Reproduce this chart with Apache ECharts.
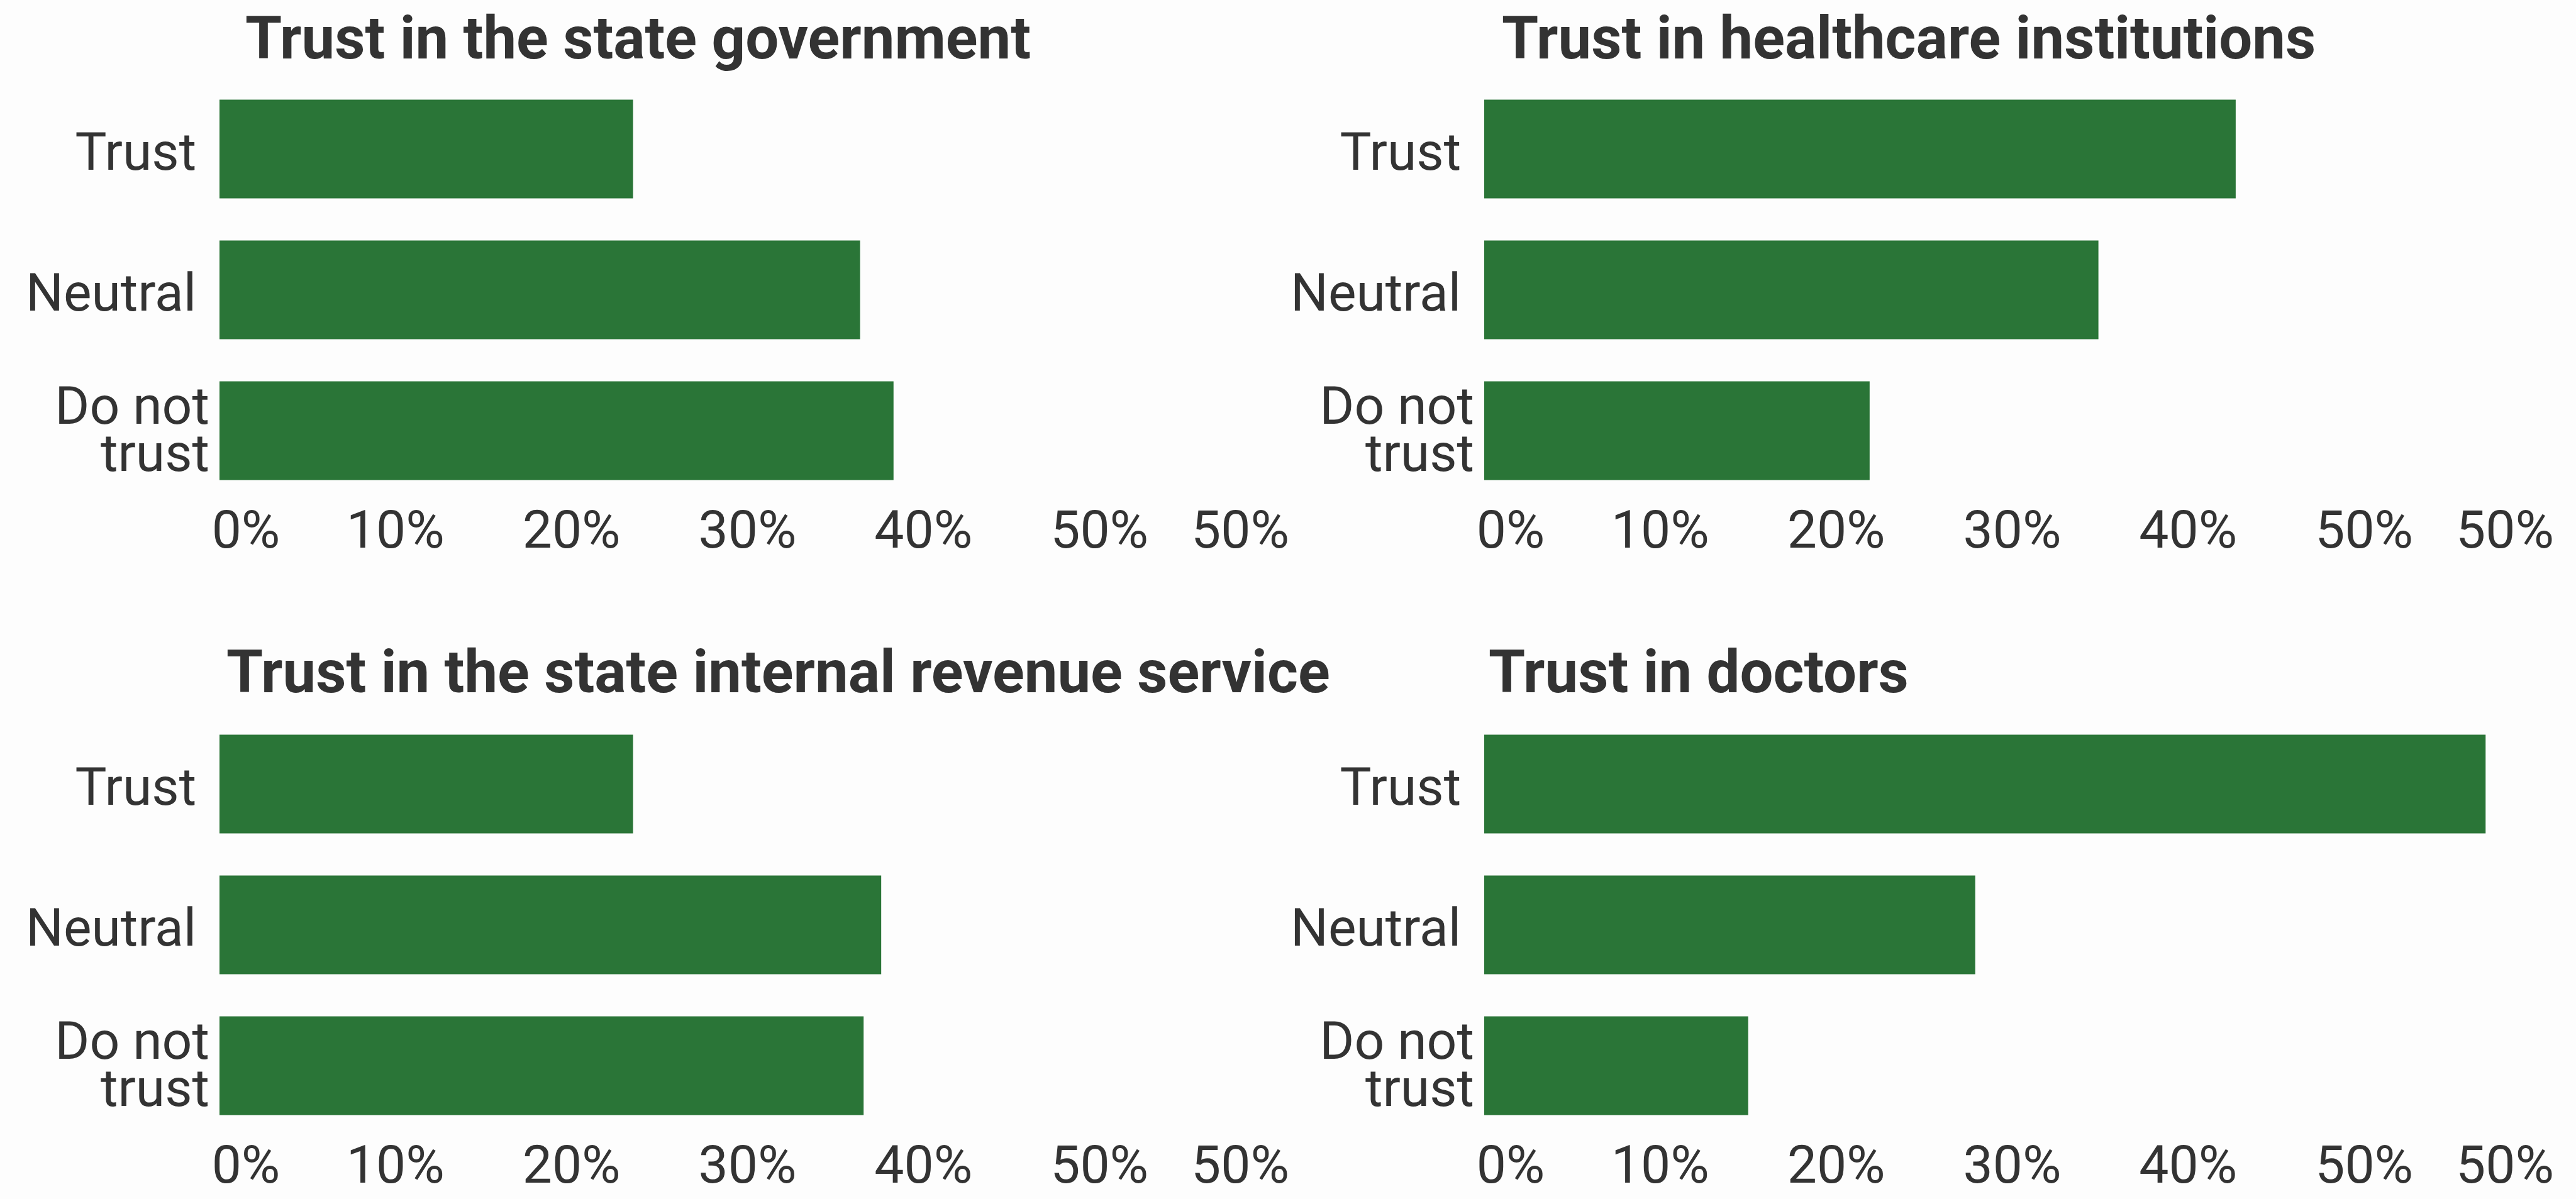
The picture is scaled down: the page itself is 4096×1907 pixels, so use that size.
<!DOCTYPE html>
<html>
<head>
<meta charset="utf-8">
<script src="https://cdn.jsdelivr.net/npm/echarts@6/dist/echarts.min.js"></script>
<style>
  html, body { margin: 0; padding: 0; background: #fdfdfd; }
  #chart { width: 4096px; height: 1907px; }
</style>
</head>
<body>
<div id="chart"></div>
<script>
// Survey answers, shares of respondents (0..1)
const categories = ['Trust ', 'Neutral ', 'Do not\ntrust'];
const stateGovernment = [0.235, 0.364, 0.383];
const healthcareInstitutions = [0.427, 0.349, 0.219];
const stateRevenueService = [0.235, 0.376, 0.366];
const doctors = [0.569, 0.279, 0.150];
const panelTitles = [
  'Trust in the state government',
  'Trust in healthcare institutions',
  'Trust in the state internal revenue service',
  'Trust in doctors'
];
const tickLabels = ['0%', '10%', '20%', '30%', '40%', '50%', '50%'];

const FONT = 'Roboto, "Open Sans", sans-serif';
const TEXT = '#333333';
const GREEN = '#2a7537';
const LABEL_SIZE = 84;

const panels = [
  { values: stateGovernment,        left: 349,  top: 125,  titleLeft: 390,  titleTop: 22 },
  { values: healthcareInstitutions, left: 2360, top: 125,  titleLeft: 2388, titleTop: 22 },
  { values: stateRevenueService,    left: 349,  top: 1135, titleLeft: 360,  titleTop: 1030 },
  { values: doctors,                left: 2360, top: 1135, titleLeft: 2367, titleTop: 1030 }
];
const GRID_W = 1679;
const GRID_H = 672;

const labelFont = { fontSize: LABEL_SIZE, fontFamily: FONT, color: TEXT };

// Percent ticks: the first label sits inside the plot, the last one ends at the axis end
const tickText = (v) => {
  const i = Math.round(v * 10);
  const t = tickLabels[i];
  if (i === 0) return '{first|' + t + '}';
  if (i === tickLabels.length - 1) return '{last|' + t + '}';
  return t;
};

// One-line category names sit a little lower than the two-line one
const categoryText = (v) => (v.indexOf('\n') >= 0 ? v : '{one|' + v + '}');

const option = {
  backgroundColor: '#fdfdfd',
  animation: false,
  title: panels.map((p, i) => ({
    text: panelTitles[i],
    left: p.titleLeft,
    top: p.titleTop,
    padding: 0,
    textStyle: {
      fontSize: 94, fontWeight: 'bold', fontFamily: FONT, color: TEXT, lineHeight: 94
    }
  })),
  grid: panels.map(p => ({
    left: p.left, top: p.top, width: GRID_W, height: GRID_H,
    outerBoundsMode: 'none', containLabel: false
  })),
  xAxis: panels.map((p, i) => ({
    type: 'value', gridIndex: i, min: 0, max: 0.6, interval: 0.1,
    axisLine: { show: false }, axisTick: { show: false }, splitLine: { show: false },
    axisLabel: {
      show: true, showMinLabel: true, showMaxLabel: true, hideOverlap: false,
      margin: 11, lineHeight: LABEL_SIZE,
      ...labelFont,
      formatter: tickText,
      rich: {
        first: { ...labelFont, lineHeight: LABEL_SIZE, padding: [0, 0, 0, 84] },
        last: { ...labelFont, lineHeight: LABEL_SIZE, padding: [0, 112, 0, 0] }
      }
    }
  })),
  yAxis: panels.map((p, i) => ({
    type: 'category', gridIndex: i, data: categories, inverse: true,
    axisLine: { show: false }, axisTick: { show: false }, splitLine: { show: false },
    axisLabel: {
      margin: 16, lineHeight: 75, padding: [10, 0, 0, 0], ...labelFont,
      formatter: categoryText,
      rich: {
        one: { ...labelFont, lineHeight: 75, padding: [14, 0, 0, 0] }
      }
    }
  })),
  series: panels.map((p, i) => ({
    type: 'bar', xAxisIndex: i, yAxisIndex: i,
    data: p.values,
    barCategoryGap: '30%',
    itemStyle: { color: GREEN },
    silent: true
  }))
};

const chart = echarts.init(document.getElementById('chart'), null, { renderer: 'canvas' });
chart.setOption(option);
</script>
</body>
</html>
